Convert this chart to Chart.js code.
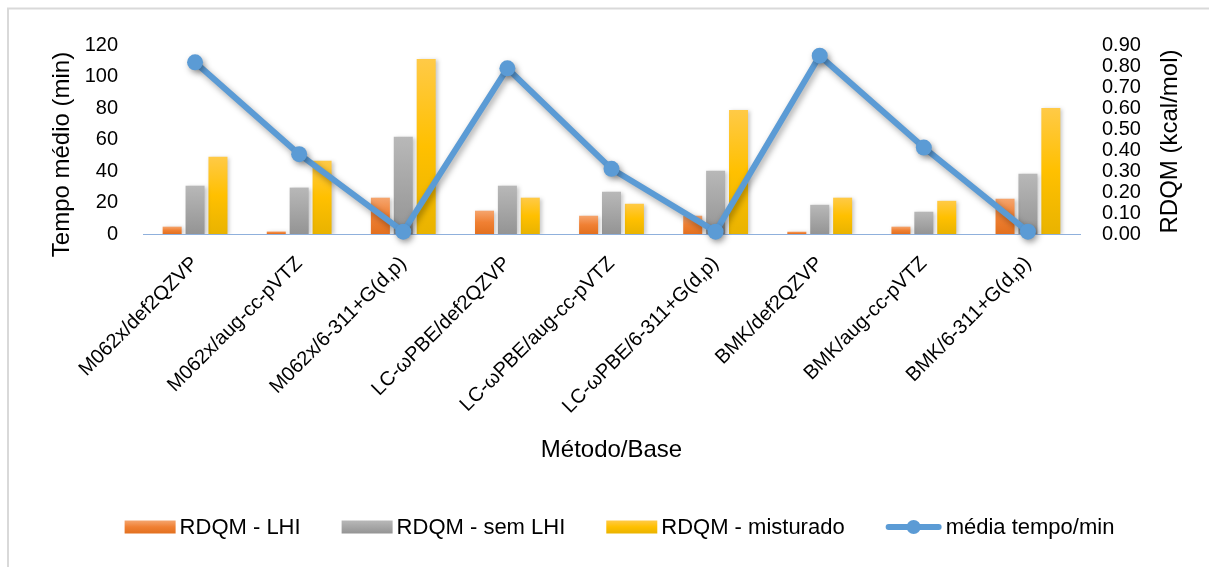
<!DOCTYPE html>
<html>
<head>
<meta charset="utf-8">
<script src="https://cdn.jsdelivr.net/npm/chart.js@4.4.1/dist/chart.umd.min.js"></script>
<style>
  html, body { margin: 0; padding: 0; background: #fff; }
  canvas { display: block; }
</style>
</head>
<body>
<canvas id="chart" width="1209" height="567"></canvas>
<script>
// Method/basis-set combinations on the category axis
const categories = [
  'M062x/def2QZVP', 'M062x/aug-cc-pVTZ', 'M062x/6-311+G(d,p)',
  'LC-ωPBE/def2QZVP', 'LC-ωPBE/aug-cc-pVTZ', 'LC-ωPBE/6-311+G(d,p)',
  'BMK/def2QZVP', 'BMK/aug-cc-pVTZ', 'BMK/6-311+G(d,p)'
];

// RDQM values (kcal/mol), right axis
const rdqmLHI       = [0.035, 0.012, 0.173, 0.111, 0.087, 0.087, 0.011, 0.035, 0.168];
const rdqmSemLHI    = [0.230, 0.221, 0.463, 0.230, 0.201, 0.301, 0.139, 0.106, 0.287];
const rdqmMisturado = [0.368, 0.349, 0.833, 0.173, 0.144, 0.591, 0.173, 0.158, 0.600];

// Mean computation time (min), left axis
const mediaTempo = [109.0, 50.7, 1.5, 105.2, 41.4, 1.5, 113.2, 54.9, 1.5];

// Tick values of both value axes
const tempoTicks = [0, 20, 40, 60, 80, 100, 120];
const rdqmTicks  = [0.00, 0.10, 0.20, 0.30, 0.40, 0.50, 0.60, 0.70, 0.80, 0.90];

const FONT = "'Liberation Sans', Arial, sans-serif";
const LINE_BLUE = '#5B9BD5';

// light-top / mid / dark-bottom stops for the bar fills
const ORANGE = ['#F5A56E', '#F08033', '#E2701F'];
const GRAY   = ['#B8B8B8', '#A6A6A6', '#949494'];
const YELLOW = ['#FFCA47', '#FFC000', '#E9B300'];

function barFill(stops) {
  return (c) => {
    const chart = c.chart;
    if (!chart.chartArea || c.type !== 'data') return stops[1];
    const s = chart.scales.y1;
    const top = s.getPixelForValue(c.raw);
    const bot = s.getPixelForValue(0);
    if (!(bot - top > 0.5)) return stops[1];
    const g = chart.ctx.createLinearGradient(0, top, 0, bot);
    g.addColorStop(0, stops[0]);
    g.addColorStop(0.5, stops[1]);
    g.addColorStop(1, stops[2]);
    return g;
  };
}

// white background and the light frame lines
const framePlugin = {
  id: 'frame',
  beforeDraw(chart) {
    const ctx = chart.ctx;
    ctx.save();
    ctx.fillStyle = '#fff';
    ctx.fillRect(0, 0, chart.width, chart.height);
    ctx.strokeStyle = '#D9D9D9';
    ctx.lineWidth = 2;
    ctx.beginPath();
    ctx.moveTo(8, chart.height);
    ctx.lineTo(8, 8.5);
    ctx.lineTo(chart.width, 8.5);
    ctx.stroke();
    ctx.restore();
  }
};

// soft drop shadows under bars, line and markers
const shadowPlugin = {
  id: 'shadows',
  beforeDatasetDraw(chart, args) {
    const ctx = chart.ctx;
    const isLine = chart.data.datasets[args.index].type === 'line';
    ctx.save();
    ctx.shadowColor = isLine ? 'rgba(0,0,0,0.35)' : 'rgba(0,0,0,0.22)';
    ctx.shadowBlur = isLine ? 6 : 4;
    ctx.shadowOffsetX = 2;
    ctx.shadowOffsetY = isLine ? 3 : 1;
  },
  afterDatasetDraw(chart) {
    chart.ctx.restore();
  }
};

// vertical titles of both value axes, reading bottom to top
const axisTitlePlugin = {
  id: 'axisTitles',
  afterDraw(chart) {
    const ctx = chart.ctx;
    const a = chart.chartArea;
    const mid = (a.top + a.bottom) / 2;
    ctx.save();
    ctx.fillStyle = '#000';
    ctx.font = '24px ' + FONT;
    ctx.textAlign = 'center';
    ctx.textBaseline = 'middle';
    [['Tempo médio (min)', a.left - 81, mid + 15], ['RDQM (kcal/mol)', a.right + 90, mid + 2]].forEach(([t, x, y]) => {
      ctx.save();
      ctx.translate(x, y);
      ctx.rotate(-Math.PI / 2);
      ctx.fillText(t, 0, 0);
      ctx.restore();
    });
    ctx.restore();
  }
};

// legend row under the axis title
const legendPlugin = {
  id: 'legendRow',
  afterDraw(chart) {
    const ctx = chart.ctx;
    const a = chart.chartArea;
    const fills = [ORANGE, GRAY, YELLOW, null];
    const boxW = 51, boxH = 13, lineW = 56, gap = 4, spacing = 41;
    const cy = 527;
    ctx.save();
    ctx.font = '22px ' + FONT;
    const items = chart.data.datasets.map((d, i) => {
      const w = (fills[i] ? boxW : lineW) + gap + ctx.measureText(d.label).width;
      return { label: d.label, fill: fills[i], w };
    });
    const total = items.reduce((s, it) => s + it.w, 0) + spacing * (items.length - 1);
    let x = (a.left + a.right) / 2 + 8 - total / 2;
    ctx.textBaseline = 'middle';
    ctx.textAlign = 'left';
    items.forEach((it) => {
      let sw;
      if (it.fill) {
        const g = ctx.createLinearGradient(0, cy - boxH / 2, 0, cy + boxH / 2);
        g.addColorStop(0, it.fill[0]);
        g.addColorStop(0.5, it.fill[1]);
        g.addColorStop(1, it.fill[2]);
        ctx.fillStyle = g;
        ctx.fillRect(x, cy - boxH / 2, boxW, boxH);
        sw = boxW;
      } else {
        ctx.strokeStyle = LINE_BLUE;
        ctx.lineWidth = 6;
        ctx.lineCap = 'round';
        ctx.beginPath();
        ctx.moveTo(x + 3, cy);
        ctx.lineTo(x + lineW - 3, cy);
        ctx.stroke();
        ctx.fillStyle = LINE_BLUE;
        ctx.beginPath();
        ctx.arc(x + lineW / 2, cy, 7, 0, Math.PI * 2);
        ctx.fill();
        sw = lineW;
      }
      ctx.fillStyle = '#000';
      ctx.fillText(it.label, x + sw + gap, cy + 1);
      x += it.w + spacing;
    });
    ctx.restore();
  }
};

new Chart(document.getElementById('chart'), {
  data: {
    labels: categories,
    datasets: [
      { type: 'bar', label: 'RDQM - LHI', data: rdqmLHI, yAxisID: 'y1', order: 1,
        backgroundColor: barFill(ORANGE), categoryPercentage: 0.66, barPercentage: 0.83 },
      { type: 'bar', label: 'RDQM - sem LHI', data: rdqmSemLHI, yAxisID: 'y1', order: 1,
        backgroundColor: barFill(GRAY), categoryPercentage: 0.66, barPercentage: 0.83 },
      { type: 'bar', label: 'RDQM - misturado', data: rdqmMisturado, yAxisID: 'y1', order: 1,
        backgroundColor: barFill(YELLOW), categoryPercentage: 0.66, barPercentage: 0.83 },
      { type: 'line', label: 'média tempo/min', data: mediaTempo, yAxisID: 'y', order: 0,
        borderColor: LINE_BLUE, borderWidth: 6, borderJoinStyle: 'round', borderCapStyle: 'round',
        pointRadius: 8, pointHoverRadius: 8, pointBackgroundColor: LINE_BLUE, pointBorderWidth: 0,
        tension: 0, clip: false }
    ]
  },
  options: {
    responsive: false,
    animation: false,
    layout: { padding: { left: 0, right: 0, top: 45, bottom: 87 } },
    plugins: { legend: { display: false }, tooltip: { enabled: false } },
    scales: {
      x: {
        grid: { display: false, drawTicks: false },
        border: { display: true, color: '#8FB0DC', width: 1 },
        ticks: { autoSkip: false, maxRotation: 45, minRotation: 45, padding: 18, color: '#000',
                 font: { family: FONT, size: 20 } },
        title: { display: true, text: 'Método/Base', color: '#000',
                 font: { family: FONT, size: 24 }, padding: { top: 0, bottom: 15 } },
        afterFit(s) { s.height = 246; }
      },
      y: {
        position: 'left', min: 0, max: 120,
        grid: { display: false, drawTicks: false },
        border: { display: false },
        afterBuildTicks(s) { s.ticks = tempoTicks.map(v => ({ value: v })); },
        ticks: { autoSkip: false, padding: 25, color: '#000', font: { family: FONT, size: 20 },
                 callback: (v) => String(v) },
        afterFit(s) { s.width = 143; }
      },
      y1: {
        position: 'right', min: 0, max: 0.9,
        grid: { display: false, drawTicks: false },
        border: { display: false },
        afterBuildTicks(s) { s.ticks = rdqmTicks.map(v => ({ value: v })); },
        ticks: { autoSkip: false, padding: 22, color: '#000', font: { family: FONT, size: 20 },
                 callback: (v) => Number(v).toFixed(2) },
        afterFit(s) { s.width = 129; }
      }
    }
  },
  plugins: [framePlugin, shadowPlugin, axisTitlePlugin, legendPlugin]
});
</script>
</body>
</html>
